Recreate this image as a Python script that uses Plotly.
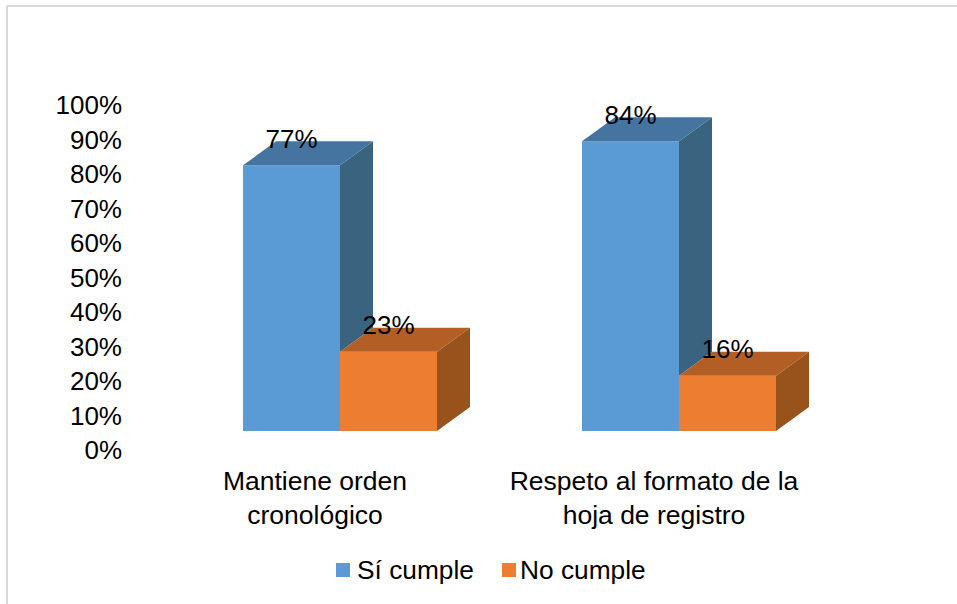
import plotly.graph_objects as go

# ---- data ----
categories = ["Mantiene orden<br>cronológico", "Respeto al formato de la<br>hoja de registro"]
series_names = ["Sí cumple", "No cumple"]
si_cumple = [77, 84]
no_cumple = [23, 16]
percent_ticks = [0, 10, 20, 30, 40, 50, 60, 70, 80, 90, 100]

# ---- page geometry ----
W, H = 957, 604
PX_X = 339.0       # px per category
PX_Y = 3.45        # px per percent
ORIGIN_X = 340.0   # px of category 0 centre
BASE_Y = 431.0     # px of front-plane 0 %
LABEL_BASE_Y = 450.0
LABEL_SHIFT_X = -25.0
DEPTH_X = 33.0 / PX_X
DEPTH_Y = 24.0 / PX_Y
BAR_W = 97.0 / PX_X
LABEL_DY = 7.0
FONT = "Liberation Sans, Arial, sans-serif"
FS = 26

BLUE, BLUE_TOP, BLUE_SIDE = "#5b9bd5", "#44749f", "#39637f"
ORANGE, ORANGE_TOP, ORANGE_SIDE = "#ed7d31", "#b25e25", "#98521b"

fig = go.Figure()


def poly(xs, ys, color):
    fig.add_trace(go.Scatter(x=xs + xs[:1], y=ys + ys[:1], mode="lines", fill="toself",
                             fillcolor=color, line=dict(width=0), hoverinfo="skip",
                             showlegend=False))


def px_x(px):
    return (px - ORIGIN_X) / PX_X


def px_y(px):
    return (BASE_Y - px) / PX_Y


fig.add_trace(go.Bar(name=series_names[0], x=[0, 1], y=si_cumple, marker=dict(color=BLUE, line=dict(width=0)), showlegend=False))
fig.add_trace(go.Bar(name=series_names[1], x=[0, 1], y=no_cumple, marker=dict(color=ORANGE, line=dict(width=0)), showlegend=False))

for i in range(len(categories)):
    a, b = si_cumple[i], no_cumple[i]
    # blue bar: side visible only above the orange block's top
    poly([i, i + DEPTH_X, i + DEPTH_X, i], [a, a + DEPTH_Y, b + DEPTH_Y, b], BLUE_SIDE)
    poly([i - BAR_W, i, i + DEPTH_X, i - BAR_W + DEPTH_X], [a, a, a + DEPTH_Y, a + DEPTH_Y], BLUE_TOP)
    # orange bar
    poly([i + BAR_W, i + BAR_W + DEPTH_X, i + BAR_W + DEPTH_X, i + BAR_W], [b, b + DEPTH_Y, DEPTH_Y, 0], ORANGE_SIDE)
    poly([i, i + BAR_W, i + BAR_W + DEPTH_X, i + DEPTH_X], [b, b, b + DEPTH_Y, b + DEPTH_Y], ORANGE_TOP)

# data labels
fig.add_trace(go.Scatter(
    x=[i - BAR_W / 2 for i in range(2)] + [i + BAR_W / 2 for i in range(2)],
    y=[v + LABEL_DY for v in si_cumple + no_cumple],
    text=[f"{v}%" for v in si_cumple + no_cumple],
    mode="text", textposition="middle center", textfont=dict(family=FONT, size=FS, color="#000000"),
    hoverinfo="skip", showlegend=False))

# legend swatches and their texts
LEGEND_Y = 570
fig.add_trace(go.Scatter(
    x=[px_x(343), px_x(509)], y=[px_y(LEGEND_Y), px_y(LEGEND_Y)], mode="markers",
    marker=dict(symbol="square", size=14, color=[BLUE, ORANGE], line=dict(width=0)),
    hoverinfo="skip", showlegend=False))

# carrier for the tick-label axes
fig.add_trace(go.Scatter(x=[0], y=[0], xaxis="x2", yaxis="y2", mode="markers",
                         marker=dict(opacity=0), hoverinfo="skip", showlegend=False))

annotations = [
    dict(xref="paper", yref="paper", x=355 / W, y=(H - LEGEND_Y) / H, xanchor="left", yanchor="middle",
         text=series_names[0], showarrow=False, font=dict(family=FONT, size=26.3, color="#000000")),
    dict(xref="paper", yref="paper", x=518 / W, y=(H - LEGEND_Y) / H, xanchor="left", yanchor="middle",
         text=series_names[1], showarrow=False, font=dict(family=FONT, size=26.3, color="#000000")),
]

fig.update_layout(
    width=W, height=H, autosize=False,
    margin=dict(l=0, r=0, t=0, b=0),
    paper_bgcolor="white", plot_bgcolor="white",
    barmode="group", bargap=1 - 2 * BAR_W, bargroupgap=0,
    showlegend=False,
    font=dict(family=FONT, size=FS, color="#000000"),
    xaxis=dict(range=[-ORIGIN_X / PX_X, (W - ORIGIN_X) / PX_X], visible=False, fixedrange=True),
    yaxis=dict(range=[-(H - BASE_Y) / PX_Y, BASE_Y / PX_Y], visible=False, fixedrange=True),
    xaxis2=dict(
        overlaying="x", anchor="free", position=(H - 462) / H, side="bottom",
        range=[-(ORIGIN_X + LABEL_SHIFT_X) / PX_X, (W - ORIGIN_X - LABEL_SHIFT_X) / PX_X],
        tickmode="array", tickvals=[0, 1], ticktext=categories, showgrid=False, zeroline=False,
        showline=False, ticks="", tickangle=0, tickfont=dict(family=FONT, size=26.5, color="#000000"),
    ),
    yaxis2=dict(
        overlaying="y", anchor="free", position=122 / W, side="left",
        range=[-(H - LABEL_BASE_Y) / PX_Y, LABEL_BASE_Y / PX_Y],
        tickmode="array", tickvals=percent_ticks, ticktext=[f"{t}%" for t in percent_ticks],
        showgrid=False, zeroline=False, showline=False, ticks="",
        tickfont=dict(family=FONT, size=FS, color="#000000"),
    ),
    annotations=annotations,
    shapes=[
        dict(type="line", xref="paper", yref="paper", x0=7 / W, x1=7 / W, y0=0, y1=(H - 6) / H,
             line=dict(color="#d9d9d9", width=2)),
        dict(type="line", xref="paper", yref="paper", x0=7 / W, x1=1, y0=(H - 6) / H, y1=(H - 6) / H,
             line=dict(color="#d9d9d9", width=2)),
    ],
)

fig.write_html("out.html", config={"displayModeBar": False},
               post_script="document.body.style.margin='0';document.body.style.overflow='hidden';")
